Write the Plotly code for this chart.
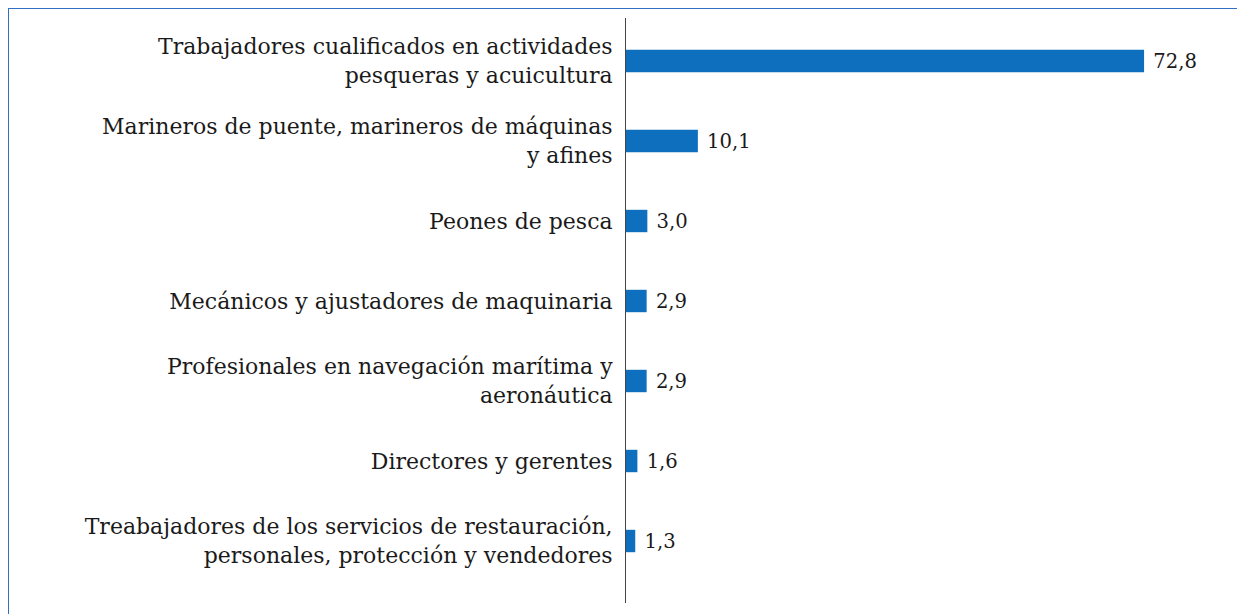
import plotly.graph_objs as go

# Data (porcentaje)
categorias = [
    "Trabajadores cualificados en actividades<br>pesqueras y acuicultura",
    "Marineros de puente, marineros de máquinas<br>y afines",
    "Peones de pesca",
    "Mecánicos y ajustadores de maquinaria",
    "Profesionales en navegación marítima y<br>aeronáutica",
    "Directores y gerentes",
    "Treabajadores de los servicios de restauración,<br>personales, protección y vendedores",
]
valores = [72.8, 10.1, 3.0, 2.9, 2.9, 1.6, 1.3]
etiquetas = ["\u00a0" + f"{v:.1f}".replace(".", ",") for v in valores]

# la pagina tiene ~8px de margen en el body, se compensa aqui
W, H = 1245, 614
ml, mr, mt, mb = 618, 15, 10, 19
pw, ph = W - ml - mr, H - mt - mb

bar_color = "#0f6fbf"
border_color = "#2f6fc4"
font_fam = "DejaVu Serif"

fig = go.Figure()

fig.add_trace(go.Bar(
    x=valores,
    y=categorias,
    orientation="h",
    marker=dict(color=bar_color, line=dict(width=0)),
    width=0.28,
    text=etiquetas,
    textposition="outside",
    textfont=dict(family=font_fam, size=21, color="#1a1a1a"),
    cliponaxis=False,
    showlegend=False,
))

# marco azul (arriba e izquierda)
def px_x(p):
    return (p - ml) / pw

def px_y(p):
    return (H - mb - p) / ph

fig.add_shape(type="line", xref="paper", yref="paper",
              x0=px_x(0), x1=px_x(W), y0=px_y(0), y1=px_y(0),
              line=dict(color=border_color, width=2))
fig.add_shape(type="line", xref="paper", yref="paper",
              x0=px_x(0), x1=px_x(0), y0=px_y(0), y1=px_y(H),
              line=dict(color=border_color, width=2))

fig.update_layout(
    width=W,
    height=H,
    margin=dict(l=ml, r=mr, t=mt, b=mb, autoexpand=False),
    plot_bgcolor="white",
    paper_bgcolor="white",
    font=dict(family=font_fam, size=22, color="#1a1a1a"),
)

fig.update_xaxes(range=[0, 86], visible=False, showgrid=False, zeroline=False)
fig.update_yaxes(
    categoryorder="array",
    categoryarray=categorias,
    range=[6.775, -0.5375],
    showline=True,
    linecolor="#444444",
    linewidth=1,
    ticks="",
    ticklabelstandoff=8,
    tickfont=dict(family=font_fam, size=22, color="#1a1a1a"),
    showgrid=False,
    zeroline=False,
)

fig.write_html("out.html")
